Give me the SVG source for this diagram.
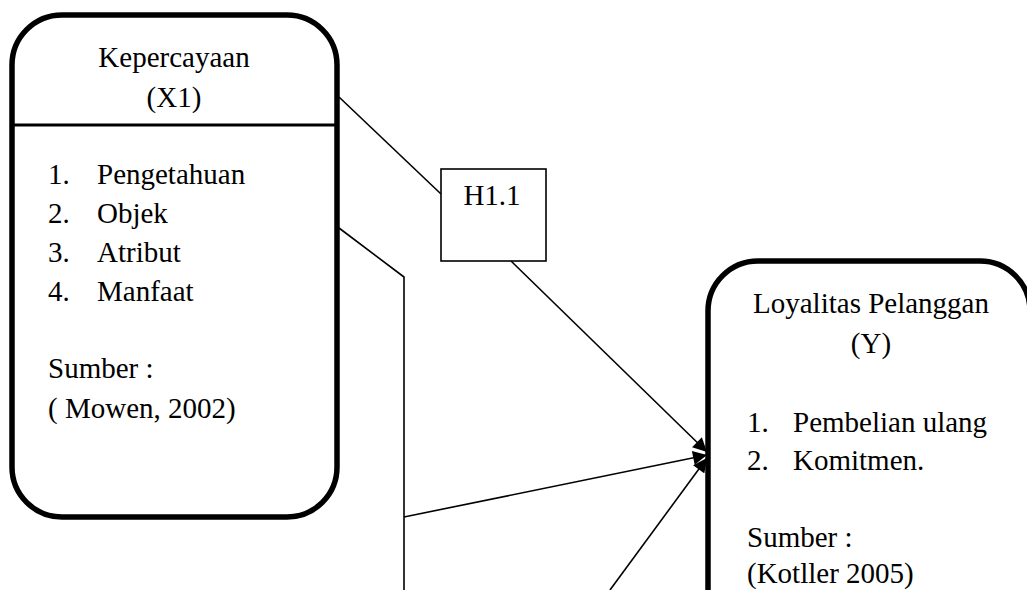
<svg xmlns="http://www.w3.org/2000/svg" width="1027" height="590" viewBox="0 0 1027 590">
<style>
text{font-family:"Liberation Serif","Times New Roman",serif;font-size:29px;fill:#000}
.c{text-anchor:middle}
.box{fill:#fff;stroke:#000;stroke-width:5.5}
.conn{fill:none;stroke:#000;stroke-width:1.6}
</style>
<defs>
<marker id="ah" viewBox="0 0 10 10" refX="10" refY="5" markerWidth="15" markerHeight="14" markerUnits="userSpaceOnUse" orient="auto">
<path d="M0,0 L10,5 L0,10 z" fill="#000"/>
</marker>
</defs>
<rect width="1027" height="590" fill="#fff"/>
<g id="connectors">
<line class="conn" x1="339" y1="97" x2="441" y2="194"/>
<line class="conn" x1="511" y1="261" x2="707" y2="452" marker-end="url(#ah)"/>
<polyline class="conn" points="339,228 404,277 404,590"/>
<line class="conn" x1="404" y1="517" x2="707" y2="455" marker-end="url(#ah)"/>
<line class="conn" x1="610" y1="590" x2="707" y2="458" marker-end="url(#ah)"/>
</g>
<g id="node-x1">
<rect class="box" x="12" y="15" width="325" height="502" rx="50" ry="50"/>
<line x1="12" y1="125" x2="337" y2="125" stroke="#000" stroke-width="3"/>
<text class="c" x="174" y="67">Kepercayaan</text>
<text class="c" x="174" y="107">(X1)</text>
<text x="48" y="184">1.</text><text x="97" y="184">Pengetahuan</text>
<text x="48" y="223">2.</text><text x="97" y="223">Objek</text>
<text x="48" y="262">3.</text><text x="97" y="262">Atribut</text>
<text x="48" y="301">4.</text><text x="97" y="301">Manfaat</text>
<text x="48" y="378">Sumber :</text>
<text x="48" y="418">( Mowen, 2002)</text>
</g>
<g id="node-h11">
<rect x="441" y="169" width="105" height="92" fill="#fff" stroke="#000" stroke-width="1.6"/>
<text class="c" x="492" y="205">H1.1</text>
</g>
<g id="node-y">
<rect class="box" x="708" y="261" width="322" height="400" rx="50" ry="50"/>
<text class="c" x="871" y="313">Loyalitas Pelanggan</text>
<text class="c" x="871" y="353">(Y)</text>
<text x="747" y="432">1.</text><text x="793" y="432">Pembelian ulang</text>
<text x="747" y="470">2.</text><text x="793" y="470">Komitmen.</text>
<text x="747" y="547">Sumber :</text>
<text x="747" y="583">(Kotller 2005)</text>
</g>
</svg>
